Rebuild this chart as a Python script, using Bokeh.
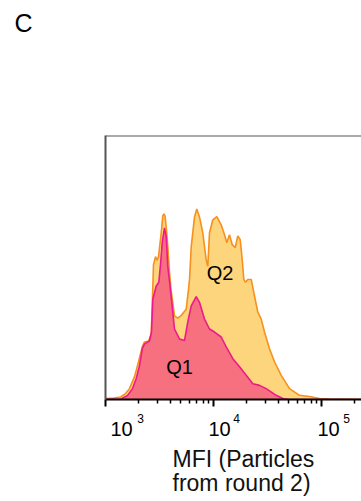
from bokeh.plotting import figure
from bokeh.models import (Range1d, FixedTicker, Label, Span, CustomJSTickFormatter,
                          LogAxis, Title)
from bokeh.embed import file_html
from bokeh.resources import INLINE

# ---- data ----
# Q2 histogram (orange outline, yellow fill): MFI, normalized count (% of mode)
q2_mfi = [1000, 1186, 1377, 1531, 1668, 1857, 2022, 2188, 2297, 2502, 2650, 2707,
          2782, 2904, 2999, 3097, 3280, 3394, 3467, 3557, 3648, 3775, 3915, 4039,
          4355, 4670, 5055, 5589, 5871, 5998, 6220, 6671, 7005, 7418, 7955, 8553,
          8851, 9183, 9858, 10735, 11780, 12650, 13280, 14060, 14890, 15880, 16790,
          17670, 18440, 19090, 19780, 20790, 22350, 23970, 25730, 27670, 29660,
          33000, 36720, 42360, 50570, 62540, 77440, 95800, 118500, 240000]
q2_count = [0.5, 0.8, 1.3, 3.1, 5.7, 12.0, 19.8, 27.6, 30.2, 30.7, 34.4, 49.0,
            70.8, 75.0, 72.9, 75.0, 87.5, 96.4, 97.4, 96.4, 90.6, 80.2, 66.7, 57.8,
            43.9, 42.7, 44.3, 47.4, 57.8, 63.0, 80.2, 95.8, 100.0, 95.8, 87.5, 73.4,
            69.9, 87.5, 94.3, 96.0, 91.7, 86.5, 82.3, 86.5, 81.3, 79.7, 85.9,
            83.9, 73.4, 63.0, 61.5, 63.0, 63.0, 54.3, 45.8, 42.2, 35.4,
            26.6, 19.8, 12.7, 5.7, 2.2, 1.6, 0.5, 0.3, 0.0]

# Q1 histogram (magenta outline, pink fill)
q1_mfi = [1000, 1397, 1599, 1778, 1923, 2064, 2188, 2297, 2553, 2667, 2742, 2946,
          3116, 3231, 3350, 3516, 3648, 3775, 3915, 4090, 4355, 4842, 5384, 5778,
          6220, 6919, 7418, 8253, 9183, 10220, 11780, 13110, 15100, 17420, 20090,
          23140, 26680, 30760, 38080, 43880, 50570, 240000]
q1_count = [0.0, 0.3, 2.1, 5.7, 10.9, 17.7, 26.6, 29.2, 30.7, 35.4, 52.6, 59.4,
            61.5, 70.8, 82.3, 90.1, 85.4, 69.8, 62.0, 52.0, 37.0, 31.8, 30.9, 40.6,
            49.1, 54.0, 51.0, 42.2, 37.0, 35.4, 32.8, 27.6, 21.4, 17.2, 12.7,
            8.3, 7.4, 5.7, 2.2, 0.5, 0.0, 0.0]

major_ticks = [1e3, 1e4, 1e5]
minor_ticks = [2e3, 3e3, 4e3, 5e3, 6e3, 7e3, 8e3, 9e3,
               2e4, 3e4, 4e4, 5e4, 6e4, 7e4, 8e4, 9e4, 2e5]
tick_base = ["10", "10", "10"]
tick_exponents = ["3", "4", "5"]
x_title = ["MFI (Particles", "from round 2)"]
panel_letter = "C"
series_labels = ["Q1", "Q2"]
# ---------------------------------------

FONT = "Liberation Sans"
PX_PER_UNIT = 1.92          # pixels per count unit on the y axis
DECADE_PX = 108             # pixels per decade on the x axis
FRAME_W, FRAME_H = 256, 266
Y_TOP = FRAME_H / PX_PER_UNIT

def xlog(px_from_left):
    return 10 ** (3 + px_from_left / DECADE_PX)

def shifted(ticks, px_offsets):
    return [t * 10 ** (o / DECADE_PX) for t, o in zip(ticks, px_offsets)]

p = figure(width=361, height=501, x_axis_type="log",
           x_range=Range1d(1e3, xlog(FRAME_W)),
           y_range=Range1d(0, Y_TOP),
           output_backend="svg", toolbar_location=None,
           min_border_left=105, min_border_right=0,
           min_border_top=135, min_border_bottom=100)
p.outline_line_color = None
p.xgrid.visible = False
p.ygrid.visible = False
p.background_fill_color = "white"
p.border_fill_color = "white"

# panel letter as the title (blank lines lift it to the top-left corner)
p.title.text = panel_letter + "\n\n\n"
p.title.align = "left"
p.title.vertical_align = "top"
p.title.offset = -91
p.title.standoff = 10
p.title.text_line_height = 1.1
p.title.text_font = FONT
p.title.text_font_size = "25px"
p.title.text_font_style = "normal"
p.title.text_color = "black"

# histograms
p.varea(x=q2_mfi, y1=0, y2=q2_count, fill_color="#FDD57C")
p.line(q2_mfi, q2_count, line_color="#F7901E", line_width=1.6)
p.varea(x=q1_mfi, y1=0, y2=q1_count, fill_color="#F6707F")
p.line(q1_mfi, q1_count, line_color="#EC1A8C", line_width=1.6)

# x axis: line + ticks only
xa = p.xaxis[0]
xa.ticker = FixedTicker(ticks=major_ticks, minor_ticks=minor_ticks)
xa.formatter = CustomJSTickFormatter(code="return ''")
xa.major_label_text_font_size = "1px"
xa.major_label_standoff = 0
xa.axis_line_color = "black"
xa.axis_line_width = 2
xa.major_tick_line_color = "black"
xa.major_tick_line_width = 2
xa.major_tick_out = 7
xa.major_tick_in = 0
xa.minor_tick_line_color = "black"
xa.minor_tick_line_width = 1.5
xa.minor_tick_out = 4
xa.minor_tick_in = 0

def label_axis(ticks, labels, size, standoff):
    ax = LogAxis(ticker=FixedTicker(ticks=ticks, minor_ticks=[]),
                 formatter=CustomJSTickFormatter(args=dict(labels=labels),
                                                 code="return labels[index]"),
                 axis_line_color=None, major_tick_line_color=None,
                 minor_tick_line_color=None, major_tick_out=0, major_tick_in=0,
                 minor_tick_out=0, minor_tick_in=0,
                 major_label_text_font=FONT, major_label_text_font_size=size,
                 major_label_text_color="black", major_label_standoff=standoff)
    p.add_layout(ax, "below")
    return ax

# superscripts, then the "10" bases
label_axis(shifted(major_ticks, [35, 23, 25]), tick_exponents, "12px", 7)
label_axis(shifted(major_ticks, [16, 6, 7]), tick_base, "20px", -4)

# axis title (two left-aligned lines)
p.add_layout(Title(text="\n".join(x_title), align="left", offset=67, standoff=10,
                   text_line_height=0.95, text_font=FONT, text_font_size="23px",
                   text_font_style="normal", text_color="#111111"), "below")

# y axis (line only)
ya = p.yaxis[0]
ya.ticker = FixedTicker(ticks=[])
ya.major_tick_line_color = None
ya.minor_tick_line_color = None
ya.axis_line_color = "#555555"
ya.axis_line_width = 2

# top border line
p.add_layout(Span(location=Y_TOP, dimension="width", line_color="#555555",
                  line_width=2))

# series labels
p.add_layout(Label(x=xlog(74), y=33 / PX_PER_UNIT, text=series_labels[0],
                   text_font=FONT, text_font_size="20px", text_align="center",
                   text_baseline="middle", text_color="black"))
p.add_layout(Label(x=xlog(114.5), y=127.5 / PX_PER_UNIT, text=series_labels[1],
                   text_font=FONT, text_font_size="20px", text_align="center",
                   text_baseline="middle", text_color="black"))

open("out.html", "w").write(file_html(p, INLINE))
